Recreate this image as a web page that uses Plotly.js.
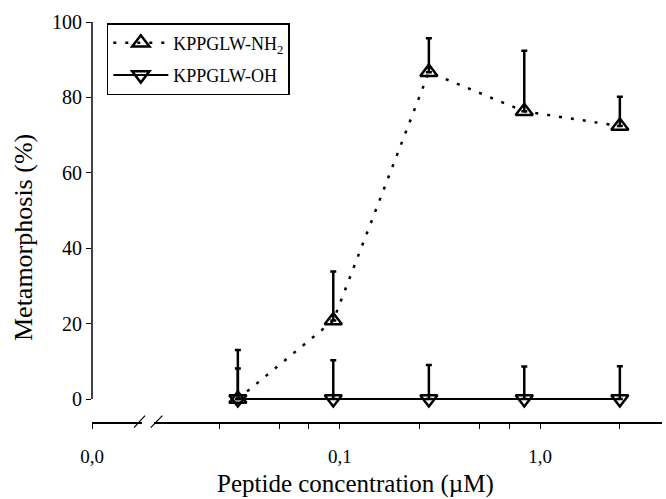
<!DOCTYPE html>
<html>
<head>
<meta charset="utf-8">
<script src="https://cdn.plot.ly/plotly-3.0.1.min.js"></script>
<style>html,body{margin:0;padding:0;background:#fff}#chart{width:666px;height:499px}</style>
</head>
<body>
<div id="chart"></div>
<script>
// Peptide concentration (µM), log-spaced
const concentration = [0.0309, 0.0926, 0.278, 0.833, 2.5];
// KPPGLW-NH2 metamorphosis (%) and upper error
const nh2Values = [0, 20.8, 86.7, 76.3, 72.4];
const nh2ErrPlus = [8.1, 13.0, 9.0, 16.1, 7.8];
// KPPGLW-OH metamorphosis (%) and upper error
const ohValues = [0, 0, 0, 0, 0];
const ohErrPlus = [13.0, 10.3, 9.0, 8.6, 8.7];
const zeros = [0, 0, 0, 0, 0];
// axis ticks
const xTickVals = [0.005774, 0.025, 0.05, 0.07, 0.1, 0.25, 0.5, 0.7, 1, 2.5];
const xTickText = ['0,0', ' ', ' ', ' ', '0,1', ' ', ' ', ' ', '1,0', ' '];
const yTickVals = [0, 20, 40, 60, 80, 100];
const xTitle = 'Peptide concentration (µM)';
const yTitle = 'Metamorphosis (%)';

const FONT = '"Liberation Serif", "Times New Roman", serif';

const traces = [
  {
    x: concentration, y: nh2Values, name: 'KPPGLW-NH<sub>2</sub>',
    type: 'scatter', mode: 'lines+markers', legendgroup: 'a',
    line: {color: '#000', width: 2.5, dash: '3px,9px'},
    marker: {symbol: 'triangle-up-open', size: 15, color: '#000', line: {width: 2.5, color: '#000'}},
    error_y: {type: 'data', symmetric: false, array: nh2ErrPlus, arrayminus: zeros,
              color: '#000', thickness: 2.5, width: 3},
    cliponaxis: false
  },
  {
    x: concentration, y: ohValues, name: 'KPPGLW-OH',
    type: 'scatter', mode: 'lines+markers', legendgroup: 'b',
    line: {color: '#000', width: 2},
    marker: {symbol: 'triangle-down-open', size: 15, color: '#000', line: {width: 2.5, color: '#000'}},
    error_y: {type: 'data', symmetric: false, array: ohErrPlus, arrayminus: zeros,
              color: '#000', thickness: 2.5, width: 3},
    cliponaxis: false
  }
];

const layout = {
  width: 666, height: 499,
  margin: {l: 92, r: 4, t: 22, b: 77, pad: 0},
  paper_bgcolor: '#fff', plot_bgcolor: '#fff',
  font: {family: FONT, color: '#000', size: 19},
  showlegend: true,
  legend: {
    x: 0.026, y: 0.9975, xanchor: 'left', yanchor: 'top',
    bgcolor: '#fff', bordercolor: '#000', borderwidth: 1.5,
    font: {family: FONT, size: 18, color: '#000'},
    traceorder: 'grouped', tracegroupgap: 6, itemwidth: 55
  },
  xaxis: {
    type: 'log', range: [-2.2385, 0.6085],
    showgrid: false, zeroline: false,
    showline: true, linecolor: '#000', linewidth: 1.5,
    ticks: 'outside', ticklen: 5, tickwidth: 1, tickcolor: '#000',
    tickmode: 'array', tickvals: xTickVals, ticktext: xTickText,
    ticklabelstandoff: 12,
    tickfont: {family: FONT, size: 19, color: '#000'}
  },
  yaxis: {
    range: [-6.1, 100],
    showgrid: false, zeroline: false, showline: false,
    ticks: 'outside', ticklen: 5, tickwidth: 1, tickcolor: '#000',
    tickmode: 'array', tickvals: yTickVals,
    ticksuffix: '\u2002',
    tickfont: {family: FONT, size: 20, color: '#000'}
  },
  annotations: [
    {text: xTitle, xref: 'paper', yref: 'paper', x: 0.463, y: -0.155,
     xanchor: 'center', yanchor: 'middle', showarrow: false,
     font: {family: FONT, size: 25, color: '#000'}},
    {text: yTitle, xref: 'paper', yref: 'paper', x: -0.121, y: 0.46,
     xanchor: 'center', yanchor: 'middle', showarrow: false, textangle: -90,
     font: {family: FONT, size: 26, color: '#000'}}
  ],
  shapes: [
    {type: 'line', xref: 'paper', yref: 'y', x0: 0, x1: 0, y0: 0, y1: 100,
     line: {color: '#000', width: 1.5}, layer: 'above'},
    {type: 'rect', xref: 'paper', yref: 'paper', x0: 0.0877, x1: 0.1088, y0: -0.006, y1: 0.006,
     fillcolor: '#fff', line: {width: 0}, layer: 'above'},
    {type: 'line', xref: 'paper', yref: 'paper', x0: 0.0737, x1: 0.093, y0: -0.01425, y1: 0.01575,
     line: {color: '#000', width: 1.2}, layer: 'above'},
    {type: 'line', xref: 'paper', yref: 'paper', x0: 0.103, x1: 0.1235, y0: -0.01425, y1: 0.01575,
     line: {color: '#000', width: 1.2}, layer: 'above'}
  ]
};

Plotly.newPlot('chart', traces, layout, {staticPlot: true, displayModeBar: false});
</script>
</body>
</html>
